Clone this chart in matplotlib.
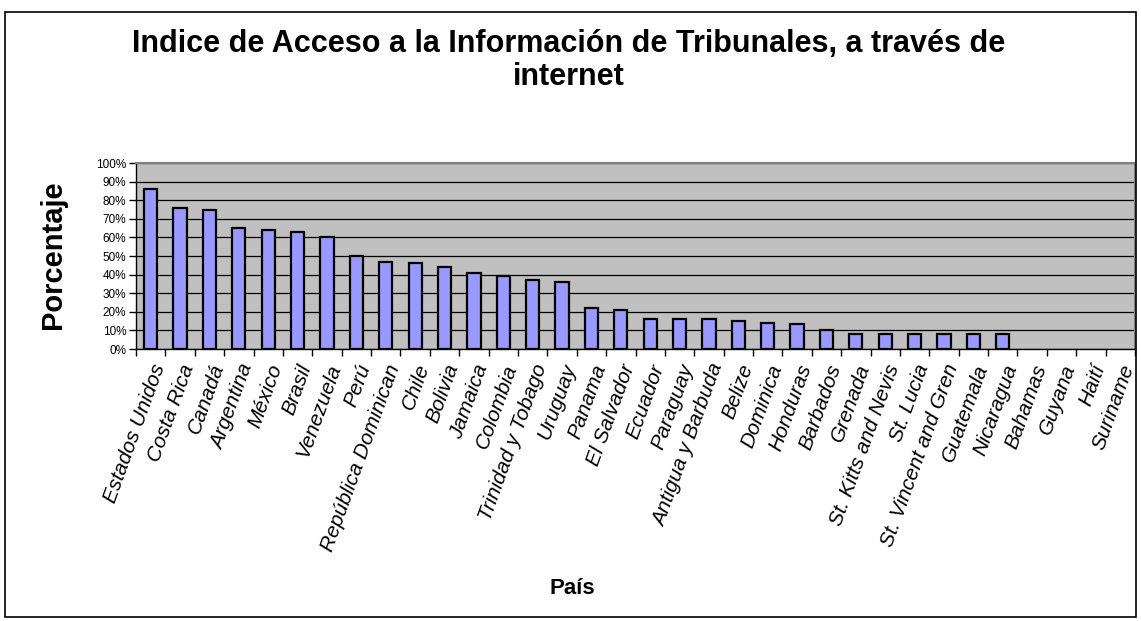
import matplotlib
matplotlib.use("Agg")
import matplotlib.pyplot as plt
from matplotlib.patches import Rectangle
from matplotlib.ticker import FixedLocator, FuncFormatter

paises = ["Estados Unidos", "Costa Rica", "Canadá", "Argentina", "México", "Brasil",
          "Venezuela", "Perú", "República Dominican", "Chile", "Bolivia", "Jamaica",
          "Colombia", "Trinidad y Tobago", "Uruguay", "Panama", "El Salvador", "Ecuador",
          "Paraguay", "Antigua y Barbuda", "Belize", "Dominica", "Honduras", "Barbados",
          "Grenada", "St. Kitts and Nevis", "St. Lucia", "St. Vincent and Gren",
          "Guatemala", "Nicaragua", "Bahamas", "Guyana", "Haití", "Suriname"]
porcentaje = [0.86, 0.76, 0.745, 0.65, 0.64, 0.63, 0.60, 0.50, 0.47, 0.465, 0.44, 0.41,
              0.39, 0.37, 0.36, 0.22, 0.21, 0.16, 0.16, 0.16, 0.15, 0.14, 0.135, 0.10,
              0.08, 0.08, 0.08, 0.08, 0.08, 0.08, 0.0, 0.0, 0.0, 0.0]
titulo_l1 = "Indice de Acceso a la Información de Tribunales, a través de"
titulo_l2 = "internet"

plt.rcParams['font.family'] = ['Liberation Sans', 'DejaVu Sans']

W, H = 1141, 621
fig = plt.figure(figsize=(W / 100, H / 100), dpi=100)
fig.patch.set_facecolor('white')
fig.patches.append(Rectangle((5 / W, 4 / H), 1131 / W, (H - 16) / H, transform=fig.transFigure,
                             fill=False, edgecolor='black', linewidth=1.2))

x0, x1, y0, y1 = 136, 1135, 163, 349
ax = fig.add_axes([x0 / W, 1 - y1 / H, (x1 - x0) / W, (y1 - y0) / H])
ax.set_facecolor('#C0C0C0')
n = len(paises)
xs = list(range(n))
edges = ['black' if v > 0 else 'none' for v in porcentaje]
ax.bar(xs, porcentaje, width=0.45, color='#9999FF', edgecolor=edges, linewidth=1.6, zorder=3)
ax.set_xlim(-0.5, n - 0.5)
ax.set_ylim(0, 1.0)
ax.set_yticks([i / 10 for i in range(11)])
ax.yaxis.set_major_formatter(FuncFormatter(lambda v, p: f"{int(round(v * 100))}%"))
ax.grid(axis='y', color='black', linewidth=0.9, zorder=1)
ax.set_axisbelow(True)

ax.set_xticks(xs)
ax.set_xticklabels(paises, rotation=70, ha='right', rotation_mode='anchor',
                   fontsize=15, style='italic')
ax.tick_params(axis='x', which='major', length=0, pad=9)
ax.xaxis.set_minor_locator(FixedLocator([i + 0.5 for i in range(-1, n)]))
ax.tick_params(axis='x', which='minor', length=5, width=1, color='black', direction='out')
ax.tick_params(axis='y', length=5, width=1, direction='out', labelsize=8.5, pad=2)

for s in ['top', 'right']:
    ax.spines[s].set_color('#808080')
    ax.spines[s].set_linewidth(1.5)
for s in ['left', 'bottom']:
    ax.spines[s].set_color('black')
    ax.spines[s].set_linewidth(1.0)

fig.text(53 / W, 1 - 255 / H, "Porcentaje", ha='center', va='center', rotation=90,
         fontsize=21, fontweight='bold')
fig.text(572 / W, 1 - 588 / H, "País", ha='center', va='center', fontsize=16, fontweight='bold')
fig.text(569 / W, 1 - 52 / H, titulo_l1, ha='center', va='baseline', fontsize=22,
         fontweight='bold')
fig.text(569 / W, 1 - 85 / H, titulo_l2, ha='center', va='baseline', fontsize=22,
         fontweight='bold')

fig.savefig("out.png", dpi=100)
